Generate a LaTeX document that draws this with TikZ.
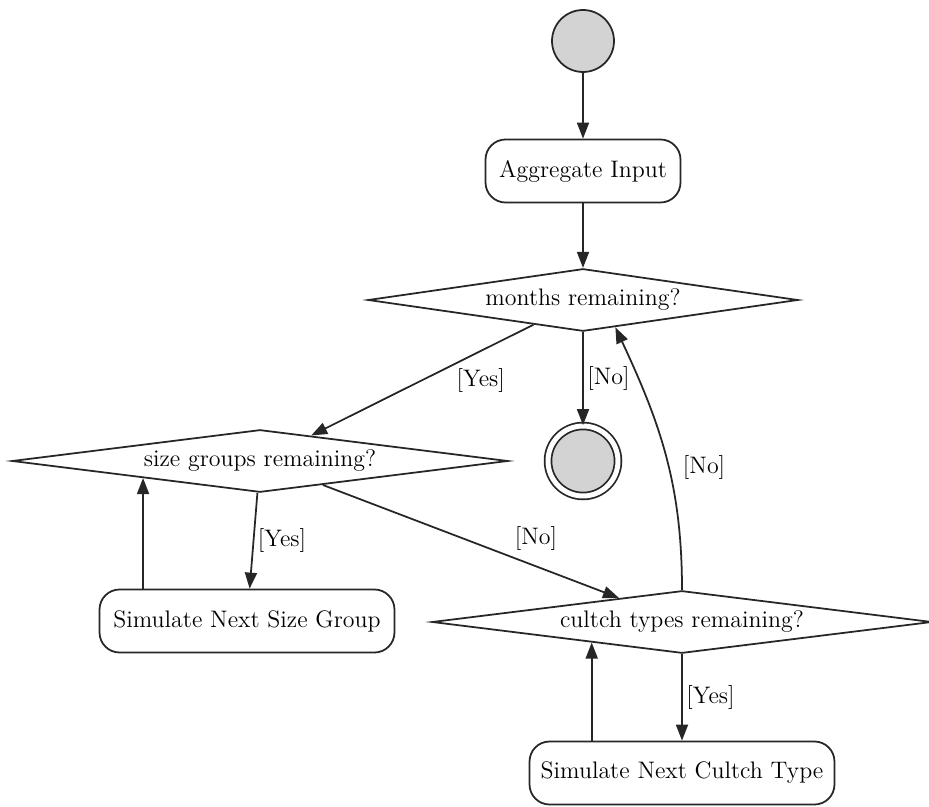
\documentclass[tikz,border=0pt]{standalone}
\usepackage{fontspec}
\usetikzlibrary{shapes.geometric, arrows.meta, calc, positioning}

\definecolor{stateGray}{RGB}{211,211,211}
\newcommand{\chartFont}{\fontsize{13.6}{16}\selectfont}

\begin{document}
\begin{tikzpicture}[x=0.02cm, y=-0.02cm, >={Triangle[length=0.32cm, width=0.24cm]}]

% --- Styles ---
\tikzset{
    actionBox/.style={draw=black!85, fill=white, line width=1pt, rounded corners=0.4cm, minimum height=1.26cm, inner sep=2pt, font=\chartFont},
    decisionDiamond/.style={diamond, aspect=7, draw=black!85, fill=white, line width=1pt, inner sep=0pt, minimum height=1.25cm, font=\chartFont},
    startPoint/.style={circle, draw=black!85, fill=stateGray, line width=1pt, minimum size=1.24cm, inner sep=0pt},
    endPoint/.style={circle, draw=black!85, fill=stateGray, line width=1pt, double=white, double distance=0.1cm, minimum size=1.4cm, inner sep=0pt},
    flowArrow/.style={->, draw=black!85, line width=1pt},
    guardLabel/.style={font=\chartFont, inner sep=2pt},
}

\useasboundingbox (0,0) rectangle (929,807);

% --- Nodes ---
\node[startPoint] (start) at (583,41) {};
\node[actionBox, minimum width=3.9cm] (aggInput) at (583,171) {Aggregate Input};
\node[decisionDiamond, minimum width=8.6cm] (monthsLeft) at (583,300) {months remaining?};
\node[endPoint] (finish) at (583,461) {};
\node[decisionDiamond, minimum width=9.92cm] (sizeLeft) at (260,461) {size groups remaining?};
\node[actionBox, minimum width=5.9cm] (simSize) at (247,621) {Simulate Next Size Group};
\node[decisionDiamond, minimum width=10cm] (cultchLeft) at (682,622) {cultch types remaining?};
\node[actionBox, minimum width=6.1cm] (simCultch) at (682,773) {Simulate Next Cultch Type};

% points on the diamond borders where the loops come back
\coordinate (monthsBack) at ($(monthsLeft.south)!0.15!(monthsLeft.east)$);
\coordinate (sizeBack) at ($(sizeLeft.south)!0.47!(sizeLeft.west)$);
\coordinate (cultchBack) at ($(cultchLeft.south)!0.36!(cultchLeft.west)$);

% --- Connectors ---
\draw[flowArrow] (start) -- (aggInput);
\draw[flowArrow] (aggInput) -- (monthsLeft);
\draw[flowArrow] (monthsLeft) -- node[guardLabel, right] {[No]} (finish);
\draw[flowArrow] (monthsLeft) -- node[guardLabel, right=0.6cm] {[Yes]} (sizeLeft);
\draw[flowArrow] (sizeLeft) -- node[guardLabel, right] {[Yes]} (simSize);
\draw[flowArrow] (simSize.north -| sizeBack) -- (sizeBack);
\draw[flowArrow] (sizeLeft) -- node[guardLabel, pos=0.72, above=0.22cm] {[No]} (cultchLeft);
\draw[flowArrow] (cultchLeft) to[out=90, in=-65] node[guardLabel, pos=0.45, right=0.2cm] {[No]} (monthsBack);
\draw[flowArrow] (cultchLeft) -- node[guardLabel, right] {[Yes]} (simCultch);
\draw[flowArrow] (simCultch.north -| cultchBack) -- (cultchBack);

\end{tikzpicture}
\end{document}
